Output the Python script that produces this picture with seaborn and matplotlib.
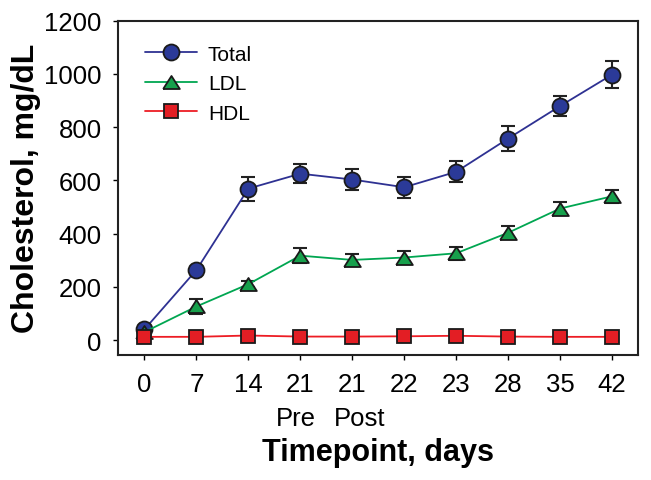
import pandas as pd
import matplotlib.pyplot as plt
import matplotlib.transforms as mtransforms
import seaborn as sns
import numpy as np

# timepoints (categorical on the x axis)
timepoints = ['0', '7', '14', '21', '21', '22', '23', '28', '35', '42']
sublabels = {3: 'Pre', 4: 'Post'}

total = [40, 263, 569, 625, 603, 574, 632, 757, 879, 997]
total_err = [10, 12, 45, 35, 38, 39, 39, 47, 37, 50]
ldl = [30, 126, 210, 317, 301, 310, 326, 403, 494, 540]
ldl_err = [8, 29, 10, 28, 22, 24, 25, 24, 26, 25]
hdl = [12, 12, 17, 13, 13, 14, 16, 13, 12, 12]
hdl_err = [3, 3, 4, 3, 3, 3, 4, 3, 3, 3]

series = ['Total', 'LDL', 'HDL']
colors = {'Total': '#2E3192', 'LDL': '#00A651', 'HDL': '#ED1C24'}
fills = {'Total': '#2B3A98', 'LDL': '#17A04C', 'HDL': '#E31E24'}
# flatter triangle like the reference
tri = [(-1, -0.78), (1, -0.78), (0, 0.78), (-1, -0.78)]
markers = {'Total': 'o', 'LDL': tri, 'HDL': 's'}
msize = {'Total': 11.5, 'LDL': 12, 'HDL': 10.3}

pos = np.arange(len(timepoints))
df = pd.DataFrame({
    'pos': np.tile(pos, 3),
    'value': total + ldl + hdl,
    'err': total_err + ldl_err + hdl_err,
    'series': np.repeat(series, len(timepoints)),
})

sns.set_style('ticks')
plt.rcParams['font.family'] = ['Liberation Sans', 'DejaVu Sans']
plt.rcParams['text.color'] = 'black'
plt.rcParams['axes.labelcolor'] = 'black'
plt.rcParams['xtick.color'] = 'black'
plt.rcParams['ytick.color'] = 'black'

fig = plt.figure(figsize=(6.51, 4.81), dpi=100)
ax = fig.add_axes([0.182, 0.260, 0.798, 0.695])

sns.lineplot(data=df, x='pos', y='value', hue='series', style='series',
             palette=colors, markers=markers, dashes=False, ax=ax, legend=False,
             linewidth=1.3, zorder=3)

# restyle markers to match the reference
for line, s in zip(list(ax.get_lines()), series):
    line.set_markersize(msize[s])
    line.set_markerfacecolor(fills[s])
    line.set_markeredgecolor('#1a1a1a')
    line.set_markeredgewidth(1.3)

for s in series:
    d = df[df['series'] == s]
    ax.errorbar(d['pos'], d['value'], yerr=d['err'], fmt='none', ecolor='#222222',
                elinewidth=1.5, capsize=5, capthick=1.5, zorder=2)

handles = [plt.Line2D([], [], color=colors[s], marker=markers[s], markersize=msize[s],
                      markerfacecolor=fills[s], markeredgecolor='#1a1a1a',
                      markeredgewidth=1.3, linewidth=1.3) for s in series]
ax.legend(handles, series, loc='upper left', frameon=False, fontsize=15,
          handlelength=2.45, handletextpad=0.55, labelspacing=0.5,
          borderpad=0, borderaxespad=0, bbox_to_anchor=(0.052, 0.928))

ax.set_xlim(-0.5, 9.5)
ax.set_ylim(-56, 1200)
ax.set_xticks(pos)
ax.set_xticklabels(timepoints, fontsize=18.5)
ax.set_yticks(np.arange(0, 1201, 200))
ax.tick_params(axis='both', labelsize=18.5, length=3.5, width=1)
ax.tick_params(axis='x', pad=9)
ax.tick_params(axis='y', pad=8.5)
for sp in ax.spines.values():
    sp.set_linewidth(1.5)
    sp.set_color('#222222')
    sp.set_visible(True)

# second line under the two day-21 ticks
trans = mtransforms.blended_transform_factory(ax.transData, ax.transAxes)
shift = {3: -3.5, 4: 5.5}
for i, txt in sublabels.items():
    ax.annotate(txt, xy=(pos[i], 0), xycoords=trans, xytext=(shift[i], -50.5),
                textcoords='offset points', ha='center', va='baseline', fontsize=18.5)

ax.set_xlabel('Timepoint, days', fontsize=22, fontweight='bold', labelpad=29)
ax.set_ylabel('Cholesterol, mg/dL', fontsize=23, fontweight='bold', labelpad=2.5)

fig.savefig('out.png', dpi=100)
